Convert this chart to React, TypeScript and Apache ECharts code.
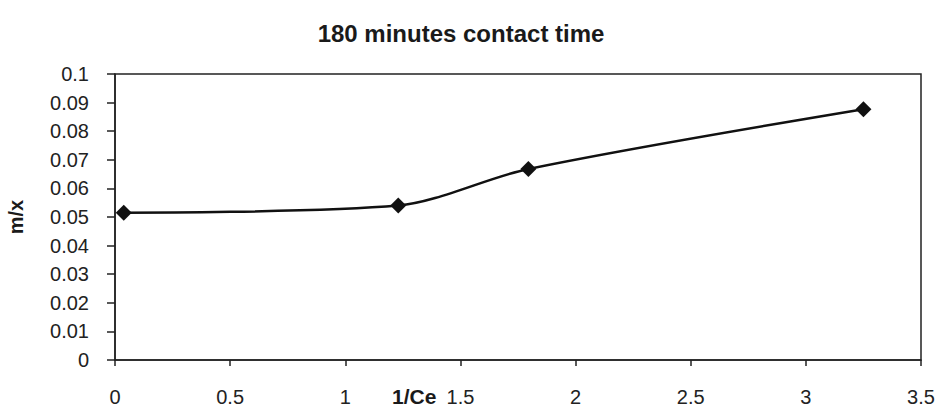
import React, { useEffect, useRef } from "react";
import * as echarts from "echarts";

const titleText = "180 minutes contact time";
const xName = "1/Ce";
const yName = "m/x";
const xValues = [0.038, 1.23, 1.795, 3.25];
const yValues = [0.0515, 0.054, 0.0668, 0.0877];

const FONT = "'Liberation Sans', Arial, sans-serif";

export default function App() {
  const ref = useRef<HTMLDivElement>(null);
  useEffect(() => {
    if (!ref.current) return;
    const chart = echarts.init(ref.current, undefined, { renderer: "svg" });
    chart.setOption({
      animation: false,
      backgroundColor: "#ffffff",
      title: {
        text: titleText,
        left: 456,
        textAlign: "center",
        top: 16,
        textStyle: { fontFamily: FONT, fontWeight: "bold", fontSize: 24, color: "#1a1a1a" },
      },
      grid: {
        left: 115,
        right: 17,
        top: 74,
        bottom: 47,
        containLabel: false,
        outerBoundsMode: "none",
        show: true,
        borderColor: "#222",
        borderWidth: 1.5,
        backgroundColor: "transparent",
      },
      graphic: [
        {
          type: "text",
          left: 392,
          top: 386,
          style: {
            text: xName,
            font: `bold 21px ${FONT}`,
            fill: "#1a1a1a",
          },
        },
      ],
      xAxis: {
        type: "value",
        min: 0,
        max: 3.5,
        interval: 0.5,
        splitLine: { show: false },
        axisLine: { lineStyle: { color: "#222", width: 1.5 } },
        axisTick: { show: true, length: 6, lineStyle: { color: "#222", width: 1.5 } },
        axisLabel: { margin: 27, fontFamily: FONT, fontSize: 20, color: "#222", showMaxLabel: true, showMinLabel: true },
      },
      yAxis: {
        type: "value",
        min: 0,
        max: 0.1,
        interval: 0.01,
        name: yName,
        nameLocation: "middle",
        nameRotate: 90,
        nameGap: 89,
        nameTextStyle: { fontFamily: FONT, fontWeight: "bold", fontSize: 20, color: "#1a1a1a" },
        splitLine: { show: false },
        axisLine: { show: true, lineStyle: { color: "#222", width: 1.5 } },
        axisTick: { show: true, length: 8, lineStyle: { color: "#222", width: 1.5 } },
        axisLabel: { margin: 26, fontFamily: FONT, fontSize: 20, color: "#222" },
      },
      series: [
        {
          type: "line",
          data: xValues.map((x, i) => [x, yValues[i]]),
          smooth: 0.3,
          symbol: "diamond",
          symbolSize: [16, 16],
          itemStyle: { color: "#111" },
          lineStyle: { color: "#111", width: 2.5 },
        },
      ],
    });
    return () => chart.dispose();
  }, []);
  return (
    <div
      ref={ref}
      style={{ position: "fixed", left: 0, top: 0, width: 938, height: 407, background: "#fff" }}
    />
  );
}
